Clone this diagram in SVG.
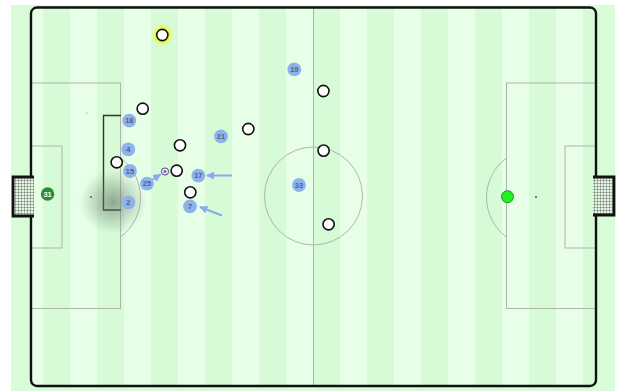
<svg xmlns="http://www.w3.org/2000/svg" width="619" height="391" viewBox="0 0 619 391">
<defs>
<pattern id="stripes" patternUnits="userSpaceOnUse" x="43" y="0" width="54" height="391">
<rect x="0" y="0" width="27" height="391" fill="#d6fbd6"/>
<rect x="27" y="0" width="27" height="391" fill="#e6ffe6"/>
</pattern>
<pattern id="net" patternUnits="userSpaceOnUse" width="3" height="3">
<rect width="3" height="3" fill="#e4f5e4"/>
<path d="M0 0H3M0 0V3" stroke="#222" stroke-width="0.6" fill="none"/>
</pattern>
<radialGradient id="shadow" cx="0.5" cy="0.5" r="0.5">
<stop offset="0" stop-color="#5f6e5f" stop-opacity="0.6"/>
<stop offset="0.55" stop-color="#6f7f6f" stop-opacity="0.3"/>
<stop offset="1" stop-color="#7f8f7f" stop-opacity="0"/>
</radialGradient>
<radialGradient id="glow" cx="0.5" cy="0.5" r="0.5">
<stop offset="0.45" stop-color="#eeee00" stop-opacity="1"/>
<stop offset="1" stop-color="#f8ff40" stop-opacity="0"/>
</radialGradient>
<marker id="arr" viewBox="0 0 10 10" refX="9" refY="5" markerWidth="4" markerHeight="4" orient="auto" markerUnits="strokeWidth">
<path d="M0 0L10 5L0 10z" fill="#88aaee"/>
</marker>
<style>
.ln{fill:none;stroke:#b0b4b0;stroke-width:1}
.w{fill:#fff;stroke:#111;stroke-width:1.6}
.b{fill:#8db3ef}
.bt{font-family:"Liberation Sans",Arial,sans-serif;font-size:7.5px;font-weight:bold;fill:#5a6070;text-anchor:middle}
.ar{stroke:#88aaee;stroke-width:2;fill:none;marker-end:url(#arr)}
.goal{fill:url(#net);stroke:#111;stroke-width:2.8}
</style>
</defs>
<rect x="11" y="5" width="604" height="386" fill="#d8fcd8"/>
<g id="pitch">
<rect x="31" y="7.5" width="565" height="378.5" rx="6" fill="url(#stripes)"/>
<line class="ln" x1="313.5" y1="7.5" x2="313.5" y2="386"/>
<circle class="ln" cx="313.5" cy="196" r="49"/>
<rect class="ln" x="31" y="83" width="89.5" height="225.5"/>
<rect class="ln" x="31" y="146" width="31" height="102"/>
<path class="ln" d="M120.5 158 A49 49 0 0 1 120.5 237"/>
<rect class="ln" x="506.5" y="83" width="89.5" height="225.5"/>
<rect class="ln" x="565" y="146" width="31" height="102"/>
<path class="ln" d="M506.5 158 A49 49 0 0 0 506.5 237"/>
<circle cx="91" cy="197" r="0.9" fill="#444"/>
<circle cx="536" cy="197" r="0.9" fill="#444"/>
<circle cx="87" cy="113" r="0.8" fill="#b9a8d8"/>
<rect x="31" y="7.5" width="565" height="378.5" rx="6" fill="none" stroke="#111" stroke-width="2.4"/>
</g>
<g id="goal-left">
<path class="goal" d="M34 177 H13 V216 H34"/>
<rect x="15" y="179" width="15" height="35" fill="url(#net)"/>
</g>
<g id="goal-right">
<path class="goal" d="M593 177 H614 V215 H593"/>
<rect x="597" y="179" width="15" height="34" fill="url(#net)"/>
</g>
<g id="box-highlight">
<path d="M121 115.5 H103.5 V210 H121" fill="none" stroke="#333" stroke-width="1.4"/>
</g>
<ellipse id="shadow-area" cx="113" cy="202" rx="34" ry="32" fill="url(#shadow)"/>
<g id="connectors">
<line class="ar" x1="232" y1="175.5" x2="207" y2="175.5"/>
<line class="ar" x1="222" y1="215.5" x2="200" y2="207"/>
<line class="ar" x1="152" y1="180" x2="160.5" y2="174.5"/>
</g>
<g id="ball">
<circle cx="165" cy="171.5" r="3.6" fill="#eef" stroke="#4a4a80" stroke-width="1"/>
<circle cx="165" cy="171.5" r="1.5" fill="#8a5a9a"/>
</g>
<g id="keeper-right"><circle cx="507.5" cy="196.7" r="6" fill="#22ee22" stroke="#1a9a1a" stroke-width="1"/></g>
<g id="w1"><circle cx="162.3" cy="35" r="11.5" fill="url(#glow)"/><circle class="w" cx="162.3" cy="35" r="5.6"/></g>
<g id="w2"><circle class="w" cx="142.7" cy="108.7" r="5.6"/></g>
<g id="w3"><circle class="w" cx="180" cy="145.3" r="5.6"/></g>
<g id="w4"><circle class="w" cx="116.7" cy="162.3" r="5.6"/></g>
<g id="w5"><circle class="w" cx="176.7" cy="170.7" r="5.6"/></g>
<g id="w6"><circle class="w" cx="190.3" cy="192.3" r="5.6"/></g>
<g id="w7"><circle class="w" cx="248.3" cy="129" r="5.6"/></g>
<g id="w8"><circle class="w" cx="323.4" cy="91" r="5.6"/></g>
<g id="w9"><circle class="w" cx="323.6" cy="150.6" r="5.6"/></g>
<g id="w10"><circle class="w" cx="328.6" cy="224.3" r="5.6"/></g>
<g id="p31"><circle cx="47.6" cy="194" r="6.7" fill="#2f8a3a"/><text x="47.6" y="196.7" class="bt" style="fill:#fff">31</text></g>
<g id="p18"><circle class="b" cx="129.3" cy="120.7" r="6.9"/><text x="129.3" y="123.4" class="bt">18</text></g>
<g id="p4"><circle class="b" cx="128.3" cy="149.3" r="6.9"/><text x="128.3" y="152" class="bt">4</text></g>
<g id="p15"><circle class="b" cx="130" cy="171" r="6.9"/><text x="130" y="173.7" class="bt">15</text></g>
<g id="p25"><circle class="b" cx="147" cy="183.7" r="6.9"/><text x="147" y="186.4" class="bt">25</text></g>
<g id="p2"><circle class="b" cx="128.3" cy="202.3" r="6.9"/><text x="128.3" y="205" class="bt">2</text></g>
<g id="p17"><circle class="b" cx="198.3" cy="175.7" r="6.9"/><text x="198.3" y="178.4" class="bt">17</text></g>
<g id="p7"><circle class="b" cx="190" cy="206.3" r="6.9"/><text x="190" y="209" class="bt">7</text></g>
<g id="p21"><circle class="b" cx="221" cy="136.4" r="6.9"/><text x="221" y="139.1" class="bt">21</text></g>
<g id="p19"><circle class="b" cx="294.3" cy="69.4" r="6.9"/><text x="294.3" y="72.1" class="bt">19</text></g>
<g id="p33"><circle class="b" cx="299" cy="185" r="6.9"/><text x="299" y="187.7" class="bt">33</text></g>
</svg>
